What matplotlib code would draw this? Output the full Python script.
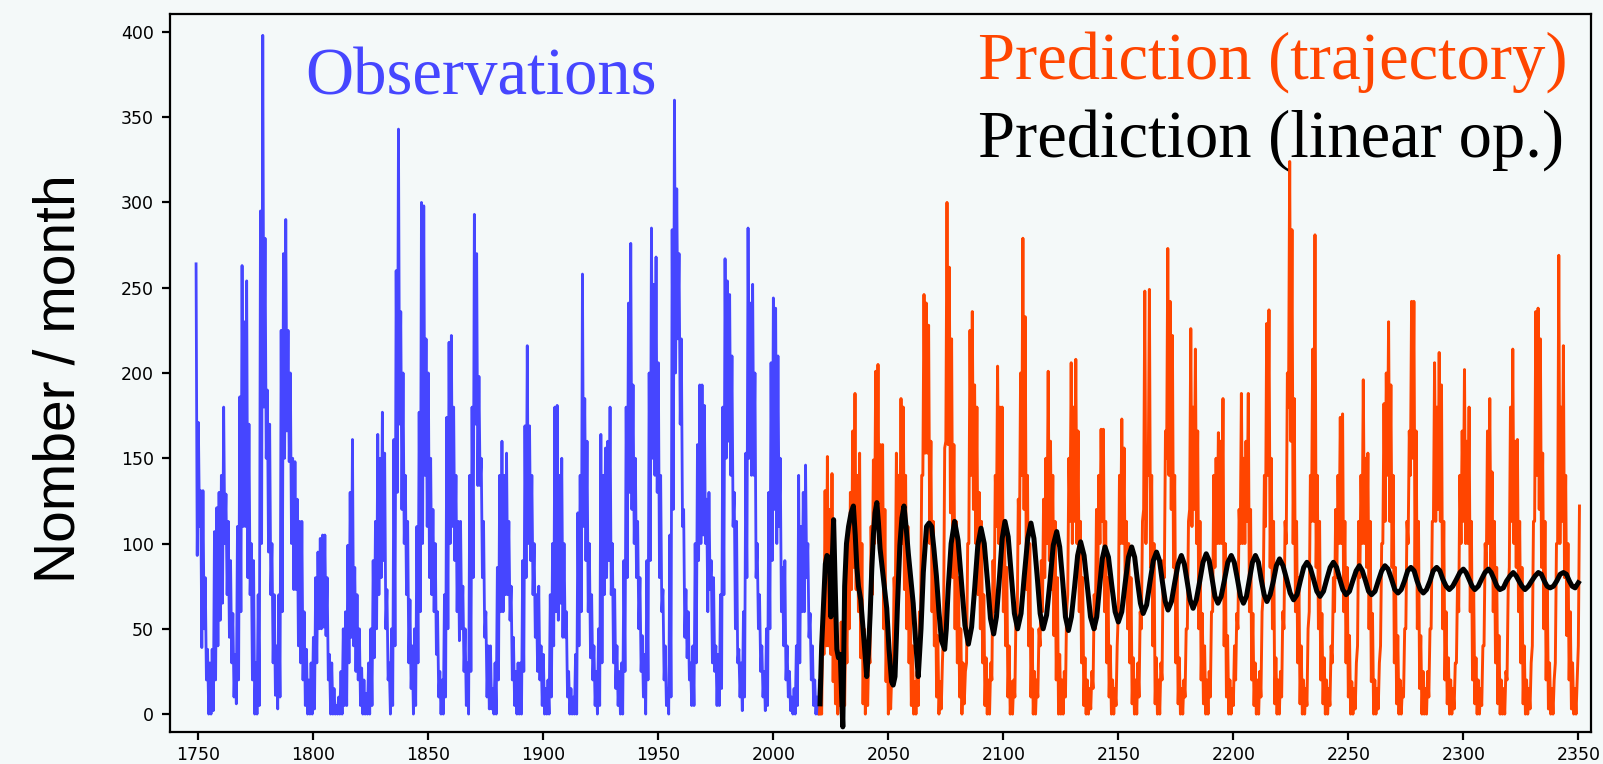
import numpy as np
import matplotlib
matplotlib.use("Agg")
import matplotlib.pyplot as plt

# observed monthly counts, upper / lower level reached in each year (1749 .. 2020)
obs_start = 1749
obs_hi = [
    264, 171, 131, 131, 80, 38, 30, 38, 107, 121,
    130, 140, 180, 129, 113, 90, 59, 35, 110, 186,
    263, 230, 254, 170, 100, 90, 30, 70, 295, 398,
    279, 190, 170, 100, 70, 40, 70, 225, 270, 290,
    225, 200, 150, 148, 126, 113, 113, 60, 38, 20,
    30, 45, 80, 95, 103, 105, 105, 80, 35, 30,
    15, 5, 10, 25, 50, 60, 99, 130, 161, 86,
    70, 50, 27, 20, 12, 30, 50, 90, 113, 164,
    150, 177, 153, 73, 30, 50, 161, 260, 343, 236,
    200, 140, 113, 67, 40, 50, 110, 177, 300, 298,
    220, 200, 150, 120, 100, 60, 25, 20, 70, 174,
    218, 222, 180, 140, 113, 113, 75, 50, 30, 140,
    180, 293, 270, 198, 150, 113, 60, 40, 40, 15,
    30, 86, 140, 160, 140, 153, 113, 75, 45, 25,
    30, 30, 90, 169, 216, 169, 140, 100, 70, 75,
    40, 35, 15, 20, 70, 100, 180, 181, 140, 150,
    100, 60, 25, 15, 10, 35, 118, 140, 258, 185,
    160, 100, 70, 40, 25, 50, 164, 140, 156, 160,
    180, 100, 73, 40, 25, 30, 90, 180, 241, 276,
    193, 150, 113, 80, 46, 35, 90, 200, 285, 252,
    268, 206, 140, 73, 40, 15, 105, 284, 360, 308,
    270, 220, 120, 73, 60, 30, 40, 100, 158, 193,
    193, 181, 126, 130, 90, 80, 40, 35, 70, 180,
    267, 254, 246, 210, 130, 113, 38, 30, 60, 153,
    285, 241, 252, 200, 100, 70, 40, 25, 50, 130,
    206, 244, 238, 210, 150, 86, 90, 40, 25, 10,
    15, 40, 140, 110, 130, 146, 100, 59, 40, 20,
    10, 20,
]
obs_lo = [
    93, 110, 39, 50, 20, 0, 0, 2, 20, 40,
    55, 65, 100, 70, 45, 30, 10, 6, 20, 60,
    110, 110, 80, 70, 20, 0, 0, 5, 100, 180,
    150, 95, 70, 30, 11, 3, 10, 60, 150, 166,
    148, 100, 73, 73, 40, 30, 20, 5, 0, 0,
    0, 3, 30, 50, 50, 51, 46, 20, 0, 0,
    0, 0, 0, 0, 5, 5, 30, 45, 40, 25,
    20, 5, 0, 0, 0, 0, 5, 33, 50, 70,
    80, 90, 50, 20, 0, 5, 40, 130, 170, 120,
    100, 70, 30, 15, 0, 5, 30, 60, 100, 140,
    110, 80, 70, 60, 35, 10, 0, 0, 10, 50,
    100, 110, 90, 60, 43, 50, 25, 5, 0, 25,
    80, 170, 134, 134, 80, 45, 10, 3, 3, 0,
    0, 20, 60, 60, 70, 70, 55, 20, 5, 0,
    0, 0, 25, 80, 100, 90, 70, 45, 25, 20,
    5, 0, 0, 0, 10, 40, 60, 55, 65, 45,
    45, 10, 0, 0, 0, 0, 40, 60, 110, 90,
    60, 33, 20, 5, 0, 5, 30, 70, 80, 90,
    70, 30, 15, 5, 0, 0, 25, 80, 130, 120,
    100, 80, 50, 25, 10, 0, 20, 90, 150, 140,
    130, 80, 60, 20, 5, 0, 10, 120, 200, 220,
    170, 110, 45, 33, 20, 5, 5, 30, 90, 100,
    105, 100, 60, 73, 30, 25, 5, 5, 15, 70,
    150, 160, 140, 110, 50, 30, 10, 2, 10, 80,
    150, 140, 140, 80, 50, 25, 10, 2, 5, 50,
    90, 120, 100, 110, 60, 40, 20, 10, 2, 0,
    0, 5, 30, 60, 60, 80, 45, 20, 5, 0,
    0, 2,
]

# predicted trajectory, upper / lower level in each year (2020 .. 2350)
pred_start = 2020
pred_hi = [
    10, 60, 131, 151, 120, 141, 86, 40, 30, 54,
    40, 60, 100, 130, 166, 188, 140, 153, 100, 50,
    33, 40, 110, 149, 201, 205, 158, 158, 120, 60,
    30, 25, 80, 153, 140, 185, 180, 140, 110, 73,
    40, 19, 25, 60, 140, 246, 241, 228, 160, 113,
    80, 46, 19, 30, 156, 300, 262, 220, 158, 113,
    80, 50, 30, 25, 100, 225, 236, 193, 180, 130,
    113, 70, 33, 20, 30, 90, 140, 204, 180, 180,
    113, 86, 40, 19, 20, 60, 126, 200, 279, 233,
    140, 100, 50, 25, 20, 50, 90, 126, 150, 201,
    160, 140, 113, 80, 35, 20, 25, 60, 150, 206,
    180, 208, 166, 113, 80, 33, 20, 15, 25, 70,
    120, 140, 167, 167, 113, 80, 40, 20, 15, 40,
    140, 173, 156, 113, 100, 80, 33, 20, 30, 60,
    113, 248, 156, 249, 140, 100, 33, 20, 30, 90,
    166, 273, 242, 222, 140, 86, 33, 15, 20, 50,
    113, 226, 180, 214, 166, 113, 59, 40, 20, 25,
    60, 140, 150, 165, 160, 185, 100, 46, 20, 15,
    40, 59, 120, 188, 150, 160, 188, 120, 59, 30,
    20, 25, 60, 140, 229, 237, 150, 113, 33, 20,
    25, 60, 113, 200, 324, 284, 185, 113, 80, 40,
    20, 15, 50, 140, 214, 281, 140, 113, 59, 33,
    20, 15, 40, 80, 120, 140, 174, 176, 113, 86,
    46, 19, 15, 30, 113, 140, 196, 150, 153, 113,
    59, 20, 15, 30, 100, 182, 200, 230, 193, 140,
    86, 46, 20, 15, 50, 113, 166, 242, 242, 166,
    113, 46, 25, 15, 25, 50, 113, 206, 180, 212,
    193, 113, 60, 33, 20, 15, 30, 80, 140, 166,
    202, 160, 180, 113, 73, 33, 20, 15, 40, 100,
    166, 185, 142, 113, 86, 46, 20, 15, 25, 73,
    180, 214, 160, 161, 113, 86, 40, 20, 15, 30,
    113, 236, 238, 220, 153, 113, 73, 30, 15, 20,
    100, 269, 180, 216, 140, 100, 60, 30, 15, 20,
    122,
]
pred_lo = [
    0, 0, 35, 40, 40, 35, 19, 6, 0, 5,
    0, 5, 30, 50, 73, 86, 73, 60, 33, 6,
    0, 5, 30, 70, 100, 110, 100, 86, 50, 19,
    0, 3, 20, 60, 80, 100, 100, 73, 50, 30,
    5, 0, 0, 5, 50, 140, 153, 153, 100, 60,
    40, 10, 0, 3, 50, 160, 158, 118, 80, 50,
    30, 10, 0, 6, 30, 100, 140, 120, 100, 70,
    50, 30, 5, 0, 0, 20, 60, 110, 100, 90,
    60, 40, 10, 0, 0, 10, 50, 100, 140, 120,
    73, 40, 10, 0, 0, 10, 40, 60, 80, 100,
    90, 73, 46, 20, 0, 0, 0, 10, 70, 113,
    100, 113, 100, 60, 30, 5, 0, 0, 3, 15,
    50, 70, 100, 113, 60, 30, 10, 0, 0, 5,
    60, 100, 100, 70, 50, 30, 6, 0, 0, 10,
    50, 120, 100, 140, 86, 40, 6, 0, 0, 20,
    80, 150, 140, 120, 86, 30, 6, 0, 0, 10,
    50, 120, 110, 120, 100, 50, 20, 6, 0, 0,
    10, 60, 86, 100, 100, 100, 40, 10, 0, 0,
    5, 20, 50, 100, 100, 100, 113, 60, 20, 5,
    0, 0, 10, 70, 110, 140, 86, 50, 6, 0,
    0, 10, 50, 100, 180, 160, 100, 60, 30, 6,
    0, 0, 5, 60, 113, 113, 86, 50, 20, 6,
    0, 0, 5, 30, 60, 80, 100, 100, 60, 30,
    10, 0, 0, 3, 40, 80, 100, 100, 86, 50,
    19, 0, 0, 3, 40, 100, 113, 140, 113, 86,
    30, 6, 0, 0, 10, 50, 100, 140, 150, 86,
    50, 15, 0, 0, 0, 10, 50, 113, 113, 120,
    113, 50, 20, 6, 0, 0, 3, 30, 60, 100,
    113, 100, 100, 60, 20, 6, 0, 0, 5, 40,
    86, 100, 86, 60, 30, 6, 0, 0, 0, 20,
    86, 113, 100, 86, 60, 30, 6, 0, 0, 3,
    40, 113, 140, 120, 86, 50, 20, 3, 0, 0,
    30, 100, 100, 113, 80, 46, 20, 3, 0, 0,
    40,
]

# prediction from the linear operator
lin_years = [
    2020.3, 2021.0, 2021.9, 2022.6, 2023.3, 2024.5, 2025.0, 2025.6, 2026.2, 2026.8,
    2027.6, 2028.3, 2029.1, 2029.7, 2030.2, 2031.0, 2031.8, 2032.7, 2033.8, 2034.8,
    2035.6, 2036.3, 2037.0, 2038.0, 2039.3, 2040.6, 2041.3, 2042.1, 2042.8, 2043.5,
    2044.2, 2045.0, 2045.7, 2046.4, 2047.8, 2049.3, 2050.3, 2051.4, 2052.1, 2052.9,
    2054.0, 2055.0, 2055.9, 2056.8, 2057.7, 2058.7, 2059.7, 2060.8, 2061.9, 2063.0,
    2064.2, 2065.2, 2066.6, 2067.7, 2068.8, 2069.8, 2070.9, 2072.0, 2073.1, 2074.5,
    2075.2, 2076.0, 2077.3, 2078.8,
    2080.3, 2081.8, 2083.3, 2084.8, 2086.2, 2087.6, 2088.9, 2090.3,
    2091.7, 2093.1, 2094.4, 2095.8, 2097.0, 2098.3, 2099.5, 2100.7,
    2102.1, 2103.5, 2104.8, 2106.2, 2107.7, 2109.1, 2110.6, 2112.0,
    2113.3, 2114.7, 2116.0, 2117.3, 2118.8, 2120.3, 2121.7, 2123.2,
    2124.5, 2125.8, 2127.0, 2128.3, 2129.6, 2131.0, 2132.3, 2133.6,
    2135.1, 2136.5, 2137.9, 2139.4, 2140.6, 2141.8, 2143.0, 2144.2,
    2145.7, 2147.1, 2148.6, 2150.0, 2151.5, 2152.9, 2154.4, 2155.8,
    2157.1, 2158.3, 2159.6, 2160.8, 2162.3, 2163.7, 2165.2, 2166.6,
    2167.9, 2169.1, 2170.4, 2171.6, 2173.1, 2174.5, 2176.0, 2177.4,
    2178.7, 2180.0, 2181.2, 2182.5, 2183.9, 2185.4, 2186.8, 2188.2,
    2189.5, 2190.8, 2192.0, 2193.3, 2194.7, 2196.2, 2197.6, 2199.1,
    2200.4, 2201.8, 2203.1, 2204.4, 2205.7, 2207.0, 2208.3, 2209.6,
    2210.9, 2212.1, 2213.4, 2214.6, 2216.0, 2217.4, 2218.7, 2220.1,
    2221.6, 2223.2, 2224.7, 2226.2, 2227.7, 2229.1, 2230.6, 2232.0,
    2233.4, 2234.9, 2236.3, 2237.7, 2239.2, 2240.6, 2242.1, 2243.5,
    2244.9, 2246.3, 2247.6, 2249.0, 2250.5, 2251.9, 2253.4, 2254.8,
    2256.1, 2257.5, 2258.8, 2260.1, 2261.6, 2263.0, 2264.5, 2265.9,
    2267.3, 2268.8, 2270.2, 2271.6, 2273.0, 2274.4, 2275.8, 2277.2,
    2278.6, 2279.9, 2281.3, 2282.6, 2284.0, 2285.5, 2286.9, 2288.4,
    2289.8, 2291.1, 2292.5, 2293.9, 2295.4, 2297.0, 2298.5, 2300.0,
    2301.2, 2302.5, 2303.8, 2305.0, 2306.5, 2307.9, 2309.4, 2310.9,
    2312.1, 2313.4, 2314.6, 2315.9, 2317.4, 2318.8, 2320.3, 2321.7,
    2323.0, 2324.2, 2325.5, 2326.8, 2328.3, 2329.7, 2331.2, 2332.6,
    2333.9, 2335.2, 2336.4, 2337.7, 2339.2, 2340.6, 2342.1, 2343.5,
    2344.8, 2346.1, 2347.3, 2348.6, 2350.0,
]
lin_vals = [
    6, 40, 67, 88, 93, 91, 57, 90, 114, 80,
    38, 33, 35, 10, -7.5, 75, 100, 110, 118, 122,
    105, 86, 75, 67, 45, 22, 35, 59, 85, 105,
    118, 124, 112, 97, 80, 62, 38, 19, 17, 22,
    65, 99, 115, 122, 110, 94, 80, 65, 42, 22,
    50, 83, 110, 112, 110, 97, 81, 60, 43, 38,
    50, 73, 100, 113,
    102, 77, 52, 41, 51, 75, 99, 109,
    100, 78, 56, 47, 57, 80, 103, 113,
    104, 81, 59, 50, 59, 81, 103, 112,
    103, 81, 59, 50, 58, 78, 99, 107,
    98, 78, 57, 49, 57, 75, 93, 101,
    93, 75, 57, 50, 57, 74, 91, 98,
    92, 76, 60, 54, 60, 76, 92, 98,
    92, 78, 65, 59, 64, 77, 90, 95,
    90, 78, 66, 61, 66, 77, 88, 93,
    88, 77, 67, 62, 67, 78, 89, 94,
    90, 79, 69, 65, 69, 79, 89, 93,
    89, 79, 69, 65, 69, 79, 89, 93,
    89, 79, 70, 66, 70, 78, 87, 91,
    87, 79, 71, 67, 70, 78, 86, 89,
    86, 79, 72, 69, 72, 79, 86, 89,
    86, 79, 73, 70, 72, 78, 84, 87,
    84, 78, 72, 70, 72, 78, 84, 87,
    85, 79, 73, 71, 73, 78, 84, 86,
    84, 78, 73, 71, 73, 78, 84, 86,
    84, 79, 75, 73, 75, 79, 83, 85,
    83, 79, 75, 73, 75, 79, 83, 85,
    83, 79, 75, 73, 74, 78, 81, 83,
    81, 78, 75, 73, 75, 78, 81, 83,
    82, 78, 75, 74, 75, 78, 82, 83,
    82, 78, 75, 74, 77,
]

bg = '#f4f9f9'
blue = '#4646ff'
orange = '#ff4500'


def zigzag(start, first, second):
    # one value early in the year, the other half a year later
    yrs = start + np.arange(len(first))
    x = np.column_stack([yrs, yrs + 0.5]).ravel()
    y = np.column_stack([first, second]).ravel()
    return x, y


fig = plt.figure(figsize=(16.03, 7.64), dpi=100, facecolor=bg)
ax = fig.add_axes([0.1061, 0.0419, 0.8864, 0.9398])
ax.set_facecolor(bg)

ox, oy = zigzag(obs_start, obs_hi, obs_lo)
px, py = zigzag(pred_start, pred_lo, pred_hi)
ax.plot(ox, oy, color=blue, lw=2.0)
ax.plot(px, py, color=orange, lw=2.1)
ax.plot(lin_years, lin_vals, color='black', lw=3.6)

ax.set_xlim(1737.7, 2355.5)
ax.set_ylim(-10.5, 410.5)
ax.set_xticks(np.arange(1750, 2351, 50))
ax.set_yticks(np.arange(0, 401, 50))
ax.tick_params(labelsize=12.5, width=1.6, length=6, direction='out')
ax.tick_params(axis='y', pad=5.5)
ax.tick_params(axis='x', pad=4)
for sp in ax.spines.values():
    sp.set_linewidth(1.6)

serif = ['Liberation Serif', 'DejaVu Serif']
ax.text(0.095, 0.8886, 'Observations', transform=ax.transAxes, color=blue,
        fontsize=48, family=serif, va='baseline', ha='left')
ax.text(0.5686, 0.9095, 'Prediction (trajectory)', transform=ax.transAxes,
        color=orange, fontsize=48, family=serif, va='baseline', ha='left')
ax.text(0.5686, 0.802, 'Prediction (linear op.)', transform=ax.transAxes,
        color='black', fontsize=48, family=serif, va='baseline', ha='left')

fig.text(0.037, 0.505, 'Nomber / month', rotation=90, fontsize=41,
         family=['Liberation Sans', 'DejaVu Sans'], ha='center', va='center')

fig.savefig('out.png', dpi=100, facecolor=bg)
